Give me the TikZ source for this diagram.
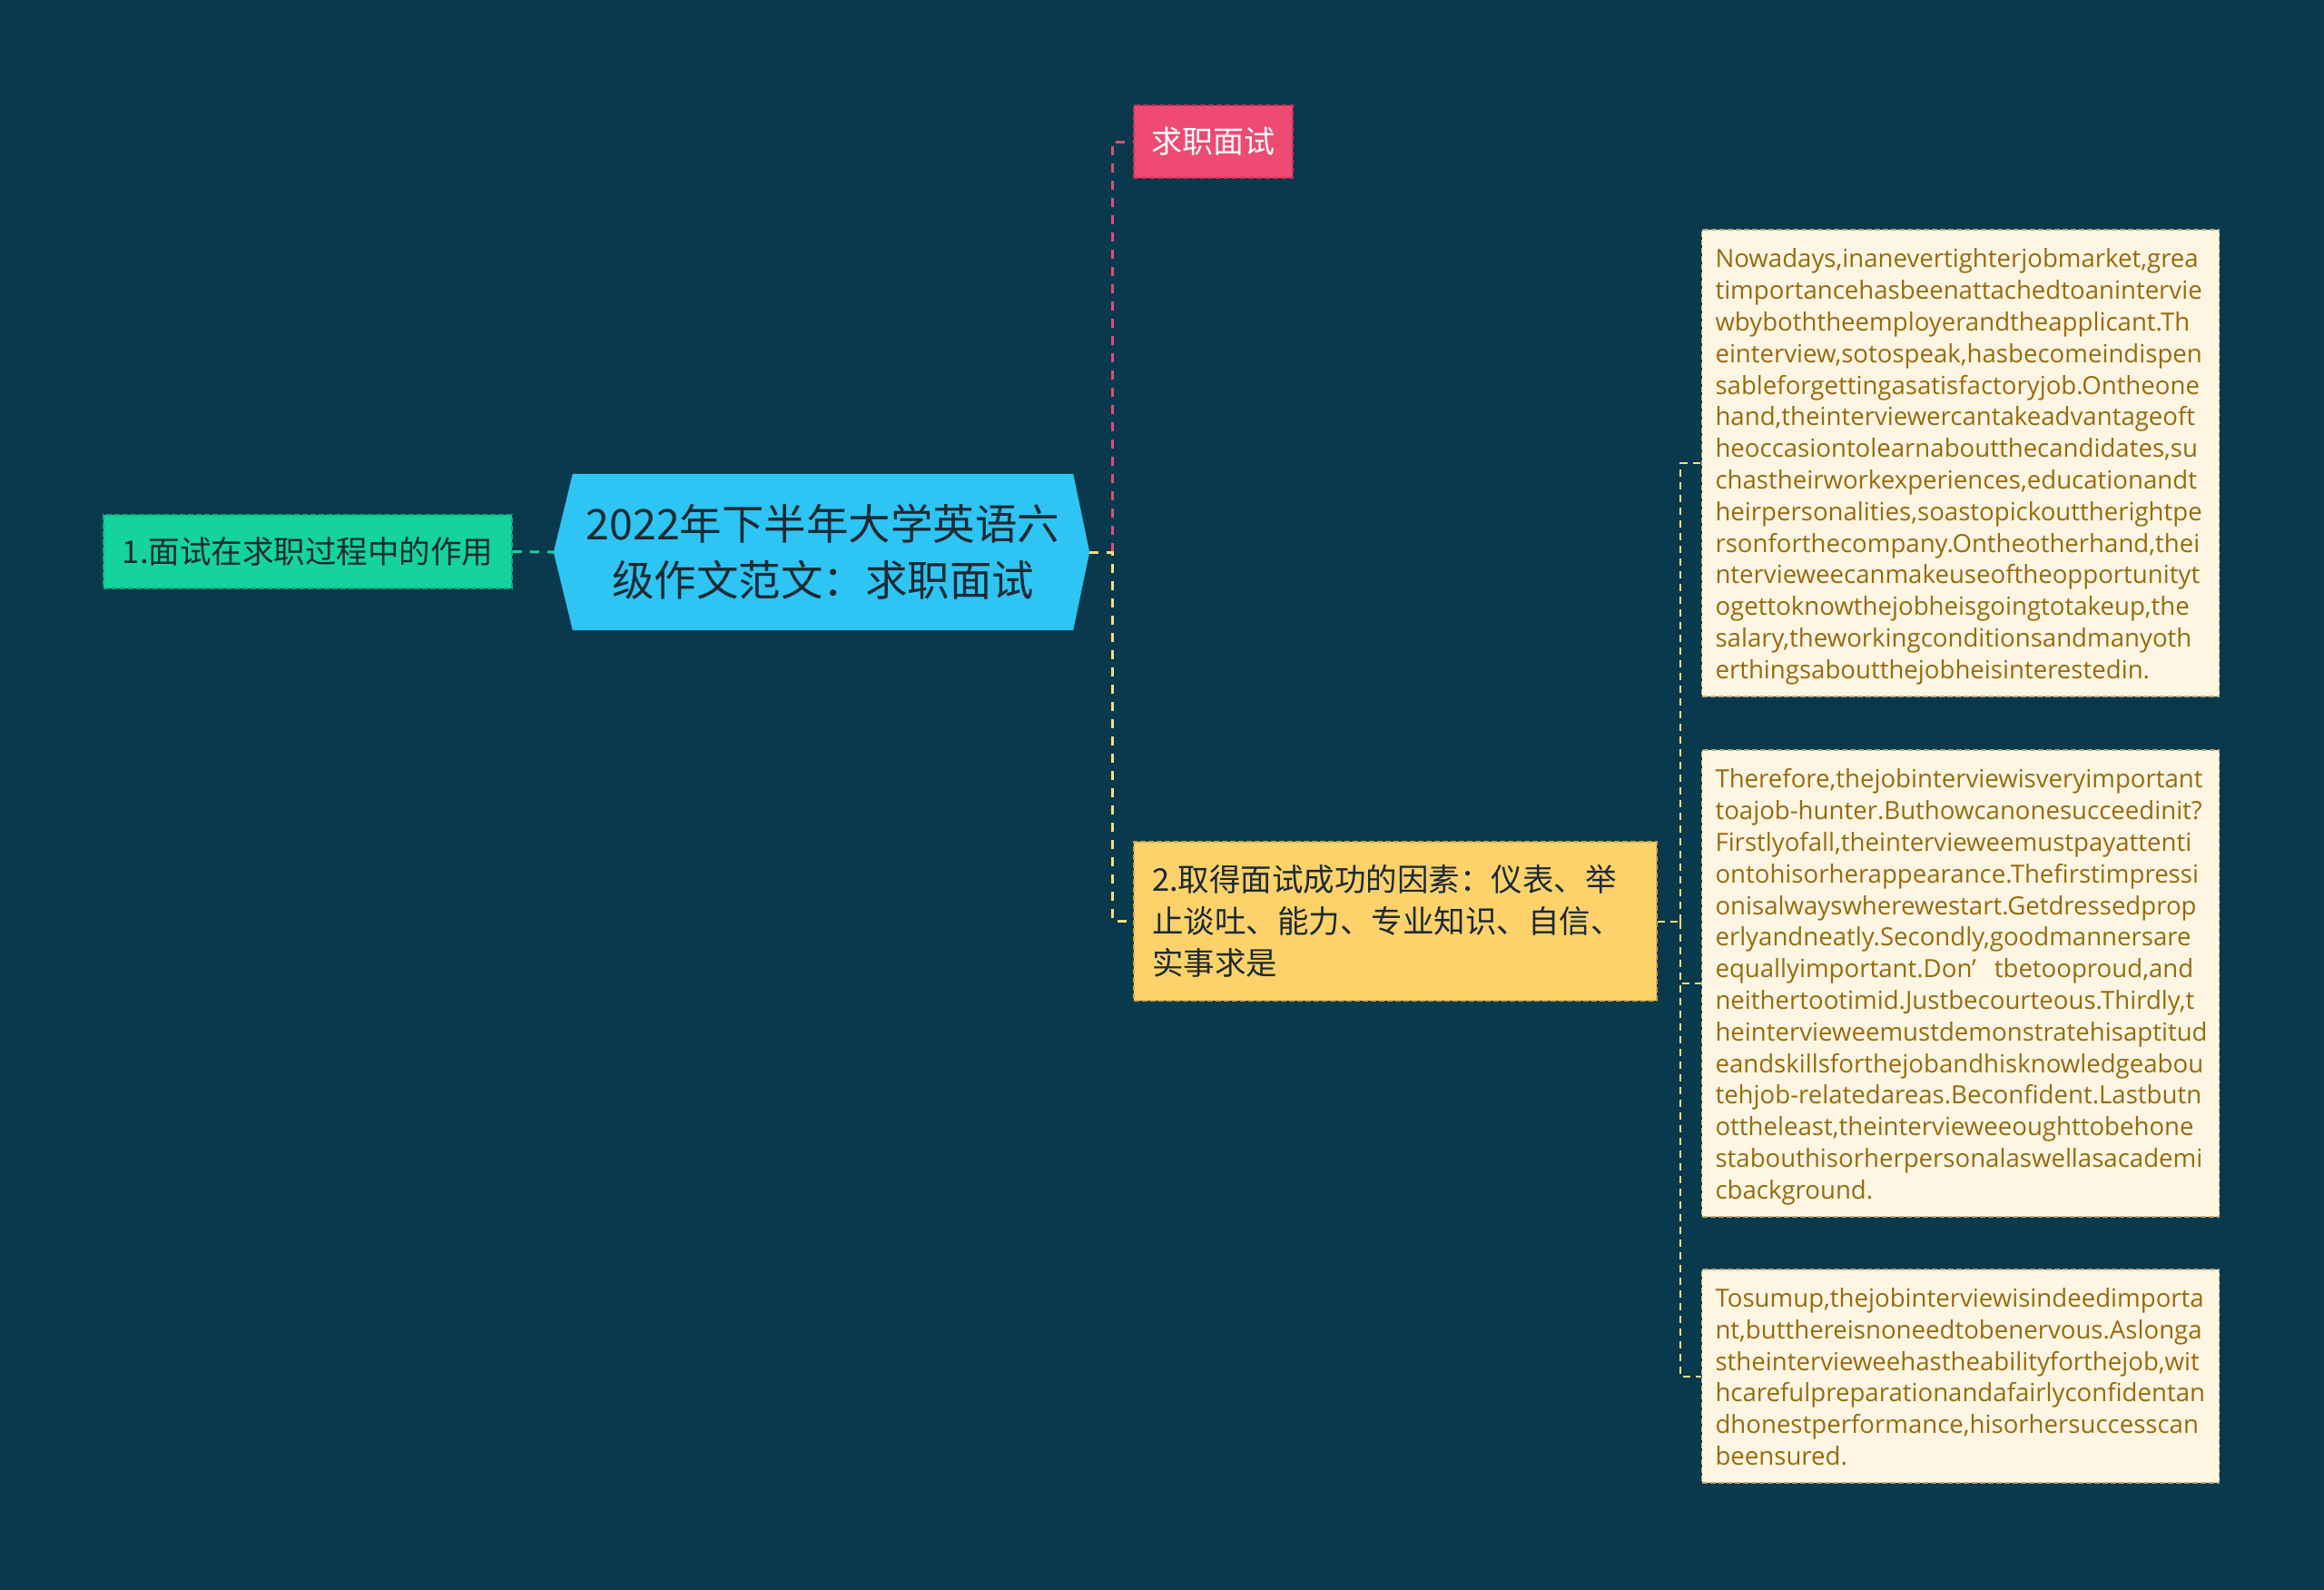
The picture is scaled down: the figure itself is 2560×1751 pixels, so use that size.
\documentclass[tikz,border=0pt]{standalone}
\usepackage{fontspec}
\setmainfont{Noto Sans CJK SC}
\newfontfamily\cjkf{Noto Sans CJK SC}
\newfontfamily\enfont{Open Sans}
\definecolor{bgc}{RGB}{8,57,76}
\definecolor{cyanfill}{RGB}{46,196,243}
\definecolor{darktxt}{RGB}{28,42,52}
\definecolor{greenfill}{RGB}{20,211,155}
\definecolor{greenline}{RGB}{14,170,124}
\definecolor{pinkfill}{RGB}{239,74,114}
\definecolor{pinkline}{RGB}{200,50,90}
\definecolor{pinkconn}{RGB}{222,78,120}
\definecolor{yelfill}{RGB}{253,210,107}
\definecolor{yelline}{RGB}{205,165,70}
\definecolor{yelconn}{RGB}{250,220,130}
\definecolor{creamfill}{RGB}{254,246,226}
\definecolor{creamline}{RGB}{190,170,120}
\definecolor{browntxt}{RGB}{152,106,16}
\pgfdeclarelayer{bglayer}
\pgfdeclarelayer{hexlayer}
\pgfsetlayers{bglayer,hexlayer,main}
\newcommand{\firststrut}{\rule{0pt}{30pt}}
\newcommand{\laststrut}{\rule[-8pt]{0pt}{8pt}}
\tikzset{
  conn/.style={line width=3pt, dash pattern=on 10pt off 9pt},
  thinconn/.style={line width=2pt, draw=yelconn, dash pattern=on 8pt off 6pt},
  boxborder/.style={line width=1.5pt, dash pattern=on 6pt off 3pt},
  topicbox/.style={boxborder, inner sep=0pt, align=left, text=darktxt},
  parabox/.style={boxborder, draw=creamline, fill=creamfill, text=browntxt,
     text width=540pt, inner xsep=15pt, inner ysep=0pt, align=left,
     font=\enfont\fontsize{27.6pt}{34.8pt}\selectfont},
}
\begin{document}
\begin{tikzpicture}[x=1pt,y=-1pt]
\begin{pgfonlayer}{bglayer}
\fill[bgc] (0,0) rectangle (2560,1751);
\end{pgfonlayer}
\useasboundingbox (0,0) rectangle (2560,1751);

% central node
\node[inner sep=0pt, minimum width=551pt, minimum height=172pt, align=center,
      text=darktxt, font=\fontsize{46.5pt}{62pt}\selectfont] (c) at (906.5,608)
      {2022年下半年大学英语六\\级作文范文：求职面试};
\begin{pgfonlayer}{hexlayer}
\fill[cyanfill] (c.north west) -- (c.north east) -- ([xshift=18pt]c.east)
   -- (c.south east) -- (c.south west) -- ([xshift=-21pt]c.west) -- cycle;
\end{pgfonlayer}
\coordinate (cw) at ([xshift=-21pt]c.west);
\coordinate (ce) at ([xshift=18pt]c.east);

% left node
\node[topicbox, draw=greenline, fill=greenfill, minimum width=450pt, minimum height=81pt,
      align=center, font=\fontsize{34.5pt}{42pt}\selectfont] (l) at (339,607.5)
      {1.面试在求职过程中的作用};

% top node
\node[topicbox, draw=pinkline, fill=pinkfill, text=white, minimum width=175pt, minimum height=80pt,
      align=center, font=\fontsize{34pt}{42pt}\selectfont] (t) at (1336.5,156)
      {求职面试};

% bottom node
\node[topicbox, draw=yelline, fill=yelfill, text width=536pt, inner xsep=20pt,
      minimum height=175pt, font=\fontsize{34.5pt}{45.7pt}\selectfont] (b) at (1537,1014.5)
      {2.取得面试成功的因素：仪表、举\\止谈吐、能力、专业知识、自信、\\实事求是};

% paragraph boxes
\node[parabox, minimum height=514pt] (p1) at (2159.5,510)
{\firststrut Nowadays,inanevertighterjobmarket,grea\\
timportancehasbeenattachedtoanintervie\\
wbyboththeemployerandtheapplicant.Th\\
einterview,sotospeak,hasbecomeindispen\\
sableforgettingasatisfactoryjob.Ontheone\\
hand,theinterviewercantakeadvantageoft\\
heoccasiontolearnaboutthecandidates,su\\
chastheirworkexperiences,educationandt\\
heirpersonalities,soastopickouttherightpe\\
rsonforthecompany.Ontheotherhand,thei\\
ntervieweecanmakeuseoftheopportunityt\\
ogettoknowthejobheisgoingtotakeup,the\\
salary,theworkingconditionsandmanyoth\\
erthingsaboutthejobheisinterestedin.\laststrut};

\node[parabox, minimum height=514pt] (p2) at (2159.5,1083)
{\firststrut Therefore,thejobinterviewisveryimportant\\
toajob-hunter.Buthowcanonesucceedinit?\\
Firstlyofall,theintervieweemustpayattenti\\
ontohisorherappearance.Thefirstimpressi\\
onisalwayswherewestart.Getdressedprop\\
erlyandneatly.Secondly,goodmannersare\\
equallyimportant.Don’\hspace{20pt}tbetooproud,and\\
neithertootimid.Justbecourteous.Thirdly,t\\
heintervieweemustdemonstratehisaptitud\\
eandskillsforthejobandhisknowledgeabou\\
tehjob-relatedareas.Beconfident.Lastbutn\\
ottheleast,theintervieweeoughttobehone\\
stabouthisorherpersonalaswellasacademi\\
cbackground.\laststrut};

\node[parabox, minimum height=235pt] (p3) at (2159.5,1515.5)
{\firststrut Tosumup,thejobinterviewisindeedimporta\\
nt,butthereisnoneedtobenervous.Aslonga\\
stheintervieweehastheabilityforthejob,wit\\
hcarefulpreparationandafairlyconfidentan\\
dhonestperformance,hisorhersuccesscan\\
beensured.\laststrut};

% connectors
\coordinate (sp) at (1225,608);
\coordinate (sp2) at (1851,1014.5);
\draw[conn, draw=greenfill] (l.east) -- (cw);
\draw[conn, draw=pinkconn] (sp) |- (t.west);
\draw[conn, draw=yelconn] (ce) -- (sp) |- (b.west);
\draw[thinconn] (b.east) -- (sp2);
\draw[thinconn] (sp2) |- (p1.west);
\draw[thinconn] (sp2) |- (p2.west);
\draw[thinconn] (sp2) |- (p3.west);
\end{tikzpicture}
\end{document}
